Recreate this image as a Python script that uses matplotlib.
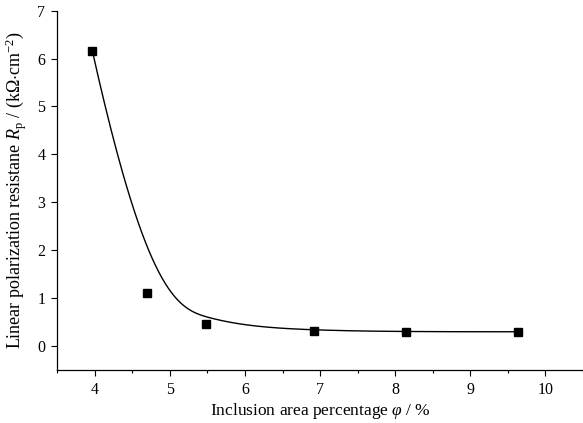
import numpy as np
import matplotlib
matplotlib.use("Agg")
import matplotlib.pyplot as plt
from matplotlib.ticker import MultipleLocator

plt.rcParams["font.family"] = ["Liberation Serif", "DejaVu Serif"]
plt.rcParams["mathtext.fontset"] = "custom"
plt.rcParams["mathtext.rm"] = "Liberation Serif"
plt.rcParams["mathtext.it"] = "Liberation Serif:italic"

# inclusion area percentage (%) and linear polarization resistance (kOhm cm^-2)
area_pct = [3.97, 4.69, 5.48, 6.92, 8.14, 9.64]
rp = [6.15, 1.10, 0.46, 0.32, 0.30, 0.30]

x_ticks = [4, 5, 6, 7, 8, 9, 10]
y_ticks = [0, 1, 2, 3, 4, 5, 6, 7]


def bspline(px, py, n=300, k=3):
    # clamped B-spline with the data as control points (Origin "B-Spline" connect)
    px, py = np.asarray(px), np.asarray(py)
    m = len(px)
    inner = np.linspace(0, 1, m - k + 1)
    knots = np.concatenate([[0] * k, inner, [1] * k])
    t = np.linspace(0, 1 - 1e-9, n)

    def basis(i, d, t):
        if d == 0:
            return np.where((knots[i] <= t) & (t < knots[i + 1]), 1.0, 0.0)
        a = 0.0
        if knots[i + d] > knots[i]:
            a = (t - knots[i]) / (knots[i + d] - knots[i]) * basis(i, d - 1, t)
        b = 0.0
        if knots[i + d + 1] > knots[i + 1]:
            b = (knots[i + d + 1] - t) / (knots[i + d + 1] - knots[i + 1]) * basis(i + 1, d - 1, t)
        return a + b

    B = np.array([basis(i, k, t) for i in range(m)])
    return B.T @ px, B.T @ py


fig = plt.figure(figsize=(5.83, 4.23), dpi=100)
ax = fig.add_axes([0.098, 0.125, 0.902, 0.85])

cx, cy = bspline(area_pct, rp)
ax.plot(cx, cy, color="black", lw=1.0)
ax.plot(area_pct, rp, "s", color="black", ms=6)

ax.set_xlim(3.5, 10.5)
ax.set_ylim(-0.5, 7)
ax.set_xticks(x_ticks)
ax.set_yticks(y_ticks)
ax.xaxis.set_minor_locator(MultipleLocator(0.5))

for side in ["top", "right"]:
    ax.spines[side].set_visible(False)
for side in ["left", "bottom"]:
    ax.spines[side].set_linewidth(0.9)

ax.tick_params(which="major", direction="out", length=4.5, width=0.8, labelsize=11.5, pad=4)
ax.tick_params(which="minor", direction="out", length=2.5, width=0.8)

ax.set_xlabel(r"Inclusion area percentage $\varphi$ / %", fontsize=12.5, labelpad=2)
ax.set_ylabel(r"Linear polarization resistane $R_\mathrm{p}$ / (k$\Omega$$\cdot$cm$^{-2}$)",
              fontsize=13, labelpad=6)

fig.savefig("out.png", dpi=100)
